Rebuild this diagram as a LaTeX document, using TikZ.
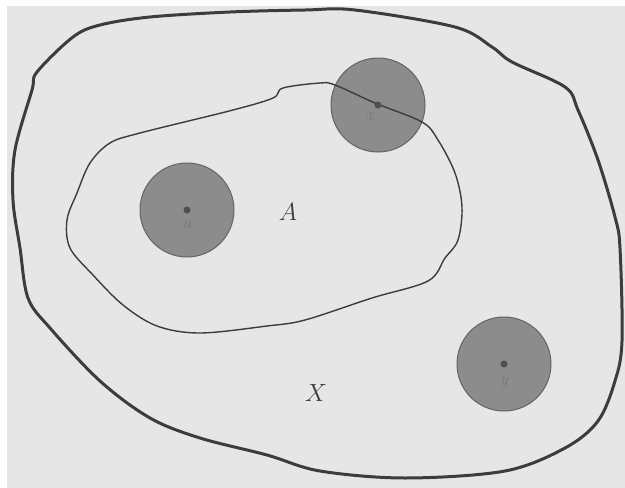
\documentclass[tikz,border=0pt]{standalone}
\usepackage{tikz}
\usetikzlibrary{positioning}

\definecolor{paper}{HTML}{E6E6E6}
\definecolor{ink}{HTML}{3C3C3C}
\definecolor{ballgray}{HTML}{8C8C8C}

\begin{document}
\begin{tikzpicture}[
    x=1pt, y=-1pt,
    space/.style={draw=ink, line width=3pt, line join=round},
    subset/.style={draw=ink, line width=1.4pt, line join=round},
    ball/.style={circle, draw=ink!80, line width=1pt, fill=ballgray, minimum size=94pt, inner sep=0pt},
    centre/.style={circle, fill=ink!90, minimum size=7pt, inner sep=0pt},
    ptlabel/.style={font=\fontsize{17}{17}\selectfont\itshape, text=ink!70},
    setlabel/.style={font=\fontsize{30}{30}\selectfont, text=ink},
]
\useasboundingbox (0,0) rectangle (625,488);
\fill[paper] (7,6) rectangle (625,488);

% neighbourhoods
\node[ball] (ballA) at (187,210) {};
\node[ball] (ballB) at (378,105) {};
\node[ball] (ballC) at (504,364) {};

% the space X
\draw[space] plot[smooth cycle, tension=0.55] coordinates {
  (37,72) (73,37) (100,25) (150,17) (230,12) (305,10) (355,10) (455,27)
  (492,47) (512,62) (565,87) (578,110) (598,160) (615,217) (620,248)
  (622,341) (615,381) (598,421) (565,448) (505,471) (405,478) (320,471)
  (267,455) (200,438) (150,418) (100,381) (50,328) (28,298) (20,248)
  (13,200) (15,150) (32,90)};

% the subset A
\draw[subset] plot[smooth cycle, tension=0.55] coordinates {
  (283,88) (320,83) (335,85) (375,103) (422,122) (438,140) (455,173)
  (462,207) (458,240) (445,258) (428,281) (372,298) (305,320) (267,326)
  (200,333) (157,326) (123,305) (93,275) (70,248) (67,220) (77,193)
  (90,163) (110,143) (140,133) (233,110) (273,98)};

\node[centre] (ptA) at (ballA.center) {};
\node[centre] (ptB) at (ballB.center) {};
\node[centre] (ptC) at (ballC.center) {};

\node[ptlabel, below=4pt of ptA] {a};
\node[ptlabel, below left=2pt and -2pt of ptB] {x};
\node[ptlabel, below=6pt of ptC] {y};

\node[setlabel] (setA) at (288,212) {$A$};
\node[setlabel] (setX) at (316,393) {$X$};

\end{tikzpicture}
\end{document}
